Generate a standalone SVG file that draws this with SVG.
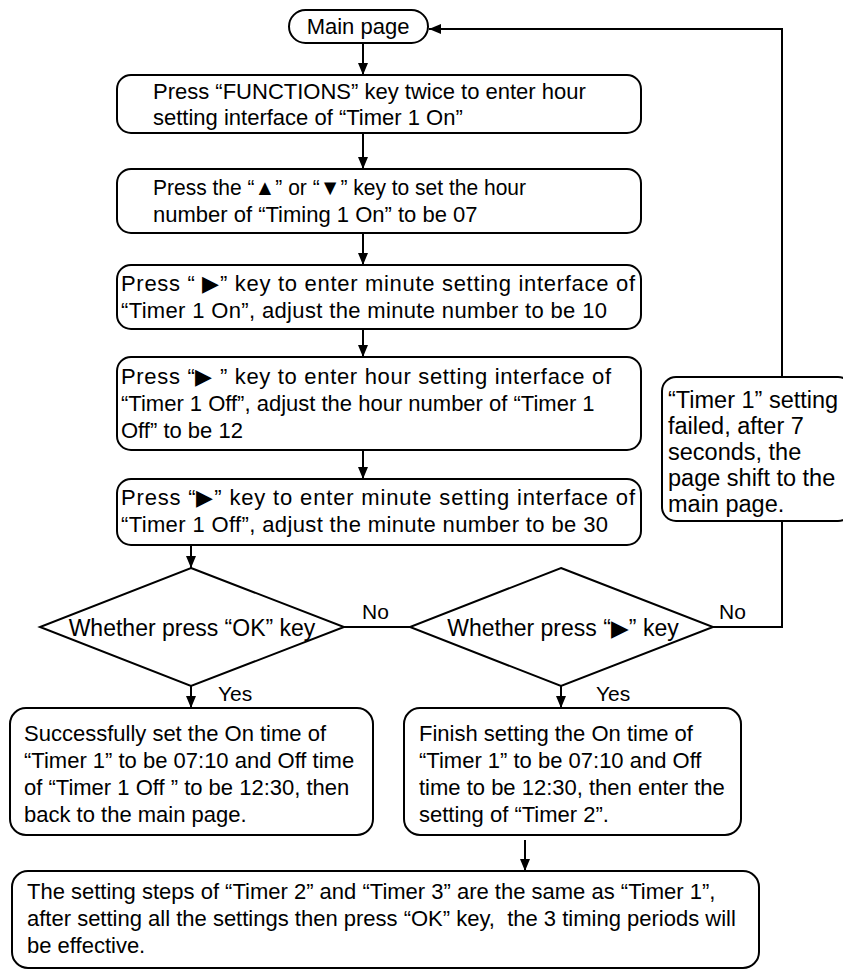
<svg xmlns="http://www.w3.org/2000/svg" width="843" height="974" viewBox="0 0 843 974">
<defs>
<style>
.box{fill:#fff;stroke:#000;stroke-width:2}
.ln{fill:none;stroke:#000;stroke-width:2}
text{font-family:"Liberation Sans",Arial,sans-serif;font-size:22px;fill:#000;white-space:pre}
.lbl{font-size:21px}
.dt{font-size:23px}
.ft{font-size:23.5px}
</style>
<marker id="ah" markerUnits="userSpaceOnUse" markerWidth="12" markerHeight="10" refX="12" refY="5" orient="auto">
<path d="M0,0 L12,5 L0,10 z" fill="#000"/>
</marker>
</defs>
<rect width="843" height="974" fill="#fff"/>
<g id="connectors">
<line class="ln" x1="363" y1="43" x2="363" y2="75" marker-end="url(#ah)"/>
<line class="ln" x1="363" y1="133" x2="363" y2="169" marker-end="url(#ah)"/>
<line class="ln" x1="363" y1="233" x2="363" y2="265" marker-end="url(#ah)"/>
<line class="ln" x1="363" y1="329" x2="363" y2="357" marker-end="url(#ah)"/>
<line class="ln" x1="363" y1="450" x2="363" y2="479" marker-end="url(#ah)"/>
<line class="ln" x1="191" y1="545" x2="191" y2="568" marker-end="url(#ah)"/>
<line class="ln" x1="344" y1="627" x2="410" y2="627"/>
<polyline class="ln" points="713,627 782,627 782,29 429,29" marker-end="url(#ah)"/>
<line class="ln" x1="191" y1="686" x2="191" y2="708" marker-end="url(#ah)"/>
<line class="ln" x1="561" y1="686" x2="561" y2="708" marker-end="url(#ah)"/>
<line class="ln" x1="525" y1="840" x2="525" y2="871" marker-end="url(#ah)"/>
<text class="lbl" x="362" y="619">No</text>
<text class="lbl" x="719" y="619">No</text>
<text class="lbl" x="218" y="701">Yes</text>
<text class="lbl" x="596" y="701">Yes</text>
</g>
<g id="main-page">
<rect class="box" x="289" y="10" width="139" height="33" rx="16.5"/>
<text x="358" y="34" text-anchor="middle">Main page</text>
</g>
<g id="step1">
<rect class="box" x="117" y="75" width="524" height="58" rx="14"/>
<text x="153" y="99">Press “FUNCTIONS” key twice to enter hour</text>
<text x="153" y="125">setting interface of “Timer 1 On”</text>
</g>
<g id="step2">
<rect class="box" x="117" y="169" width="524" height="64" rx="14"/>
<text x="153" y="195" textLength="373" lengthAdjust="spacingAndGlyphs">Press the “▲” or “▼” key to set the hour</text>
<text x="153" y="222">number of “Timing 1 On” to be 07</text>
</g>
<g id="step3">
<rect class="box" x="117" y="265" width="524" height="64" rx="14"/>
<text x="121" y="291" textLength="514" lengthAdjust="spacing">Press “ ▶” key to enter minute setting interface of</text>
<text x="121" y="318" textLength="486" lengthAdjust="spacing">“Timer 1 On”, adjust the minute number to be 10</text>
</g>
<g id="step4">
<rect class="box" x="117" y="357" width="524" height="93" rx="14"/>
<text x="121" y="384" textLength="490" lengthAdjust="spacing">Press “▶ ” key to enter hour setting interface of</text>
<text x="121" y="411">“Timer 1 Off”, adjust the hour number of “Timer 1</text>
<text x="121" y="438">Off” to be 12</text>
</g>
<g id="step5">
<rect class="box" x="117" y="479" width="524" height="66" rx="14"/>
<text x="121" y="505" textLength="514" lengthAdjust="spacing">Press “▶” key to enter minute setting interface of</text>
<text x="121" y="532" textLength="487" lengthAdjust="spacing">“Timer 1 Off”, adjust the minute number to be 30</text>
</g>
<g id="decision-ok">
<polygon class="box" points="191,568 344,627 191,686 40,627"/>
<text class="dt" x="192" y="636" text-anchor="middle">Whether press “OK” key</text>
</g>
<g id="decision-next">
<polygon class="box" points="561,568 713,627 561,686 410,627"/>
<text class="dt" x="563" y="636" text-anchor="middle">Whether press “▶” key</text>
</g>
<g id="failed">
<rect class="box" x="662" y="377" width="190" height="144" rx="14"/>
<text class="ft" x="668" y="408">“Timer 1” setting</text>
<text class="ft" x="668" y="434">failed, after 7</text>
<text class="ft" x="668" y="460">seconds, the</text>
<text class="ft" x="668" y="486">page shift to the</text>
<text class="ft" x="668" y="512">main page.</text>
</g>
<g id="success">
<rect class="box" x="10" y="708" width="363" height="127" rx="16"/>
<text x="24" y="741">Successfully set the On time of</text>
<text x="24" y="768">“Timer 1” to be 07:10 and Off time</text>
<text x="24" y="795">of “Timer 1 Off ” to be 12:30, then</text>
<text x="24" y="822">back to the main page.</text>
</g>
<g id="finish">
<rect class="box" x="404" y="708" width="337" height="127" rx="16"/>
<text x="419" y="741">Finish setting the On time of</text>
<text x="419" y="768">“Timer 1” to be 07:10 and Off</text>
<text x="419" y="795">time to be 12:30, then enter the</text>
<text x="419" y="822">setting of “Timer 2”.</text>
</g>
<g id="summary">
<rect class="box" x="12" y="871" width="747" height="97" rx="16"/>
<text x="27" y="899">The setting steps of “Timer 2” and “Timer 3” are the same as “Timer 1”,</text>
<text x="27" y="926">after setting all the settings then press “OK” key,  the 3 timing periods will</text>
<text x="27" y="953">be effective.</text>
</g>
</svg>
